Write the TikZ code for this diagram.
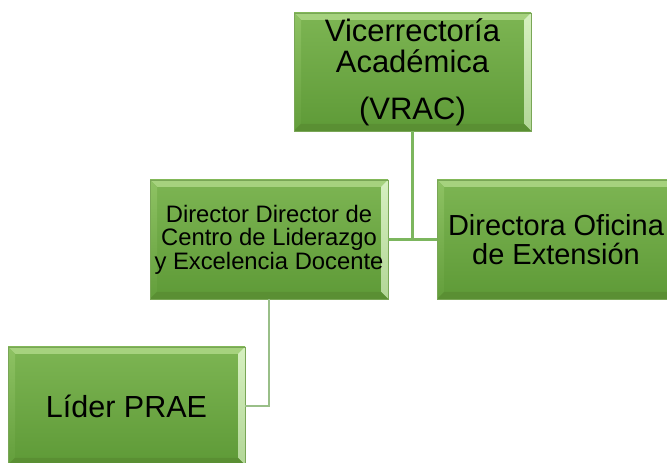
\documentclass[tikz,border=0pt]{standalone}
\usepackage{fontspec}
\setmainfont{Liberation Sans}
\definecolor{facetop}{HTML}{7DB553}
\definecolor{facebot}{HTML}{5E9A37}
\definecolor{bevtop}{HTML}{A6D27E}
\definecolor{bevleft}{HTML}{8EC263}
\definecolor{bevright}{HTML}{D6F0C0}
\definecolor{bevbot}{HTML}{5A8F33}
\definecolor{boxline}{HTML}{79A656}
\definecolor{connA}{HTML}{7CB65E}
\definecolor{connB}{HTML}{99BF88}
\tikzset{
  bevelbox/.style={rectangle, inner sep=0pt, align=center, text=black,
    draw=boxline, line width=0.6pt,
    path picture={
      \coordinate (nwc) at (path picture bounding box.north west);
      \coordinate (nec) at (path picture bounding box.north east);
      \coordinate (swc) at (path picture bounding box.south west);
      \coordinate (sec) at (path picture bounding box.south east);
      \shade[top color=facetop, bottom color=facebot] (nwc) rectangle (sec);
      \fill[bevtop] (nwc) -- (nec) -- ([shift={(-7pt,-7pt)}]nec) -- ([shift={(7pt,-7pt)}]nwc) -- cycle;
      \shade[top color=bevleft, bottom color=facebot!90!bevleft] (nwc) -- ([shift={(7pt,-7pt)}]nwc) -- ([shift={(7pt,7pt)}]swc) -- (swc) -- cycle;
      \shade[top color=bevright, bottom color=bevright!70!facebot] (nec) -- (sec) -- ([shift={(-7pt,7pt)}]sec) -- ([shift={(-7pt,-7pt)}]nec) -- cycle;
      \fill[bevbot] (swc) -- (sec) -- ([shift={(-7pt,7pt)}]sec) -- ([shift={(7pt,7pt)}]swc) -- cycle;
    }},
  conna/.style={draw=connA, line width=2.4pt},
  connb/.style={draw=connB, line width=2.4pt}
}
\begin{document}
\begin{tikzpicture}[x=1pt,y=1pt]
\useasboundingbox (0,0) rectangle (667,463);
\clip (0,0) rectangle (667,463);
\node[bevelbox, minimum width=237pt, minimum height=118pt, font=\fontsize{31}{31.6}\selectfont] (vrac) at (412.5,391) {Vicerrectoría\\Académica\\[15pt](VRAC)};
\node[bevelbox, minimum width=238pt, minimum height=119pt, font=\fontsize{23.8}{23.4}\selectfont] (dir) at (269,223.5) {Director Director de\\Centro de Liderazgo\\y Excelencia Docente};
\node[bevelbox, minimum width=238pt, minimum height=119pt, font=\fontsize{29}{28.5}\selectfont] (ext) at (556,223.5) {Directora Oficina\\de Extensión};
\node[bevelbox, minimum width=237pt, minimum height=118pt, font=\fontsize{30.5}{32}\selectfont] (lider) at (126.5,57) {Líder PRAE};
\draw[connb] (dir.south) |- (lider.east);
\draw[conna] (dir.east) -- (ext.west);
\draw[conna] (vrac.south) -- (vrac.south |- dir.east);
\end{tikzpicture}
\end{document}
